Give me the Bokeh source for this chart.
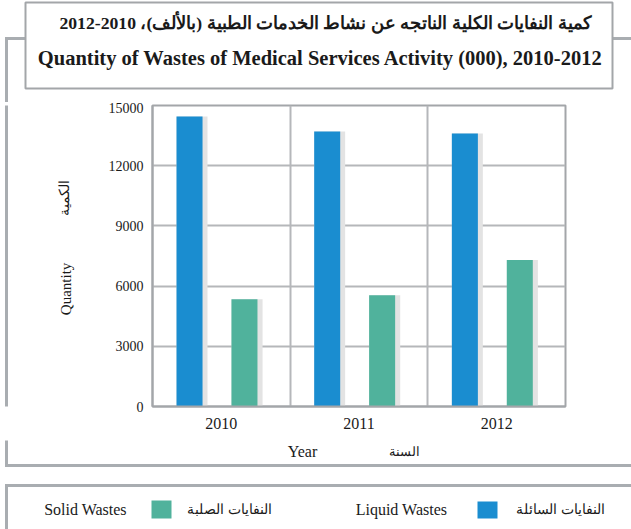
from math import pi
from bokeh.plotting import figure
from bokeh.layouts import column, row
from bokeh.models import (FactorRange, Range1d, FixedTicker, PrintfTickFormatter,
                          ColumnDataSource)
from bokeh.core.properties import value
from bokeh.transform import dodge
from bokeh.embed import file_html
from bokeh.resources import INLINE

# ---- data ----
years = ["2010", "2011", "2012"]
liquid = [14450, 13700, 13600]
solid = [5350, 5550, 7300]
y_ticks = [0, 3000, 6000, 9000, 12000, 15000]

title_ar = "كمية النفايات الكلية الناتجه عن نشاط الخدمات الطبية (بالألف)، 2010-2012"
title_en = "Quantity of Wastes of Medical Services Activity (000), 2010-2012"
ytitle_en = "Quantity"
ytitle_ar = "الكمية"
xtitle_en = "Year"
xtitle_ar = "السنة"
liquid_en = "Liquid Wastes"
liquid_ar = "النفايات السائلة"
solid_en = "Solid Wastes"
solid_ar = "النفايات الصلبة"

# ---- styles ----
BLUE = "#1a8dd0"
TEAL = "#50b29c"
SHADOW = "#e3e3e3"
GRID = "#b5b7ba"
FRAME = "#a3a6a9"
DECO = "#a9adb1"
TXT = "#1a1a1a"
SERIF = "Liberation Serif"

W = 631
TOP_H = 102
MID_H = 338
BOT_H = 89
LEFT_W = 102


def deco_fig(w, h):
    f = figure(width=w, height=h, x_range=Range1d(0, w), y_range=Range1d(h, 0),
               x_axis_type=None, y_axis_type=None, output_backend="svg",
               toolbar_location=None, min_border=0)
    f.outline_line_color = None
    f.background_fill_color = "white"
    f.border_fill_color = "white"
    return f


def seg(f, x0, y0, x1, y1, color=DECO, w=3):
    f.segment(x0=[x0], y0=[y0], x1=[x1], y1=[y1], line_color=color, line_width=w,
              line_cap="square")


def txt(f, s, x, y, size, bold=False, angle=0.0, font=SERIF):
    f.text(x=[x], y=[y], text=[s], text_font=value(font), text_font_size=value(f"{size}px"),
           text_font_style="bold" if bold else "normal", text_align="center",
           text_baseline="middle", angle=angle, text_color=TXT)


# ---- top: title ----
top = deco_fig(W, TOP_H)
seg(top, 6, 38, 660, 38)
seg(top, 6, 38, 6, TOP_H + 5)
top.quad(left=[25], right=[612], top=[2], bottom=[88], fill_color="white",
         line_color=FRAME, line_width=2)
txt(top, title_ar, 325, 22, 17.7, bold=True)
txt(top, title_en, 320, 57, 20.5, bold=True)

# ---- left filler: y titles ----
left = deco_fig(LEFT_W, MID_H)
seg(left, 6, -5, 6, MID_H + 5)
txt(left, ytitle_ar, 64, 104, 14, angle=pi / 2)
txt(left, ytitle_en, 65, 206, 15, angle=pi / 2)

# ---- main chart ----
src = ColumnDataSource(dict(year=years, liquid=liquid, solid=solid))
MW = W - LEFT_W
p = figure(width=MW, height=MID_H, x_range=FactorRange(factors=years),
           y_range=Range1d(0, 15000), output_backend="svg", toolbar_location=None,
           min_border_left=50, min_border_right=66, min_border_top=3,
           min_border_bottom=34)
p.background_fill_color = "white"
p.border_fill_color = "white"
p.outline_line_color = FRAME
p.outline_line_width = 2

p.vbar(x=dodge("year", -0.213, range=p.x_range), top="liquid", width=0.225,
       source=src, fill_color=SHADOW, line_color=None)
p.vbar(x=dodge("year", -0.231, range=p.x_range), top="liquid", width=0.189,
       source=src, fill_color=BLUE, line_color=None)
p.vbar(x=dodge("year", 0.187, range=p.x_range), top="solid", width=0.225,
       source=src, fill_color=SHADOW, line_color=None)
p.vbar(x=dodge("year", 0.168, range=p.x_range), top="solid", width=0.189,
       source=src, fill_color=TEAL, line_color=None)

for ax in (p.xaxis[0], p.yaxis[0]):
    ax.axis_line_color = FRAME
    ax.axis_line_width = 2
    ax.major_tick_line_color = None
    ax.minor_tick_line_color = None
    ax.major_tick_out = 0
    ax.major_tick_in = 0
    ax.major_label_text_font = SERIF
    ax.major_label_text_color = TXT
p.yaxis[0].major_label_standoff = 9
p.xaxis[0].major_label_standoff = 11
p.yaxis[0].ticker = FixedTicker(ticks=y_ticks)
p.yaxis[0].formatter = PrintfTickFormatter(format="%d")
p.yaxis[0].major_label_text_font_size = "14px"
p.xaxis[0].major_label_text_font_size = "16px"

p.ygrid.grid_line_color = GRID
p.ygrid.grid_line_width = 2
p.ygrid.ticker = FixedTicker(ticks=y_ticks)
p.xgrid.grid_line_color = GRID
p.xgrid.grid_line_width = 2
p.xgrid.ticker = FixedTicker(ticks=[1, 2])

# ---- bottom: x titles + legend ----
bot = deco_fig(W, BOT_H)
seg(bot, 6, -5, 6, 25)
seg(bot, 6, 25, 660, 25)
seg(bot, 6, 45, 660, 45)
seg(bot, 6, 45, 6, BOT_H + 5)
txt(bot, xtitle_en, 302, 11, 16)
txt(bot, xtitle_ar, 404, 11, 13)
bot.quad(left=[151], right=[171], top=[60], bottom=[78], fill_color=TEAL, line_color=None)
bot.quad(left=[477], right=[497], top=[61], bottom=[78], fill_color=BLUE, line_color=None)
txt(bot, solid_en, 85, 69, 16)
txt(bot, solid_ar, 229, 69, 13.5)
txt(bot, liquid_en, 401, 69, 16)
txt(bot, liquid_ar, 560, 69, 13.5)

layout = column(top, row(left, p, spacing=0), bot, spacing=0)
open("out.html", "w").write(file_html(layout, INLINE))
